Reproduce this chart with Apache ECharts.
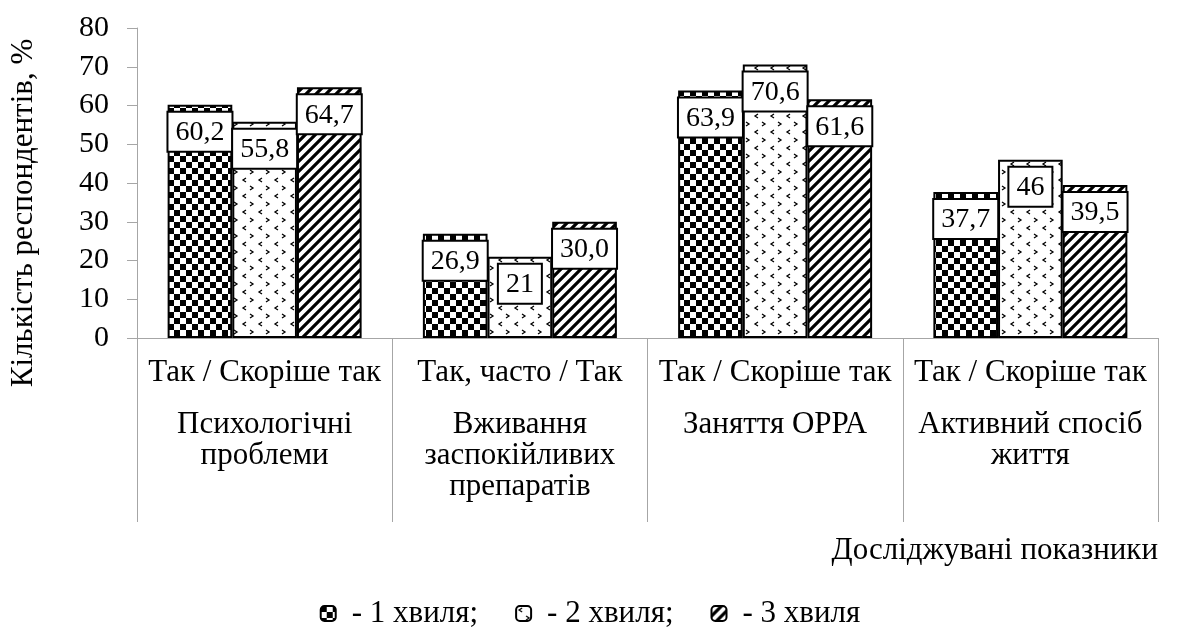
<!DOCTYPE html>
<html>
<head>
<meta charset="utf-8">
<title>Кількість респондентів</title>
<script src="https://cdn.jsdelivr.net/npm/echarts@6/dist/echarts.min.js"></script>
<style>
	html, body { margin: 0; padding: 0; background: #fff; }
	#chart { width: 1180px; height: 632px; }
</style>
</head>
<body>
<div id="chart"></div>
<script>
	// дані
	var groups = ['Психологічні\nпроблеми', 'Вживання\nзаспокійливих\nпрепаратів', 'Заняття ОРРА', 'Активний спосіб\nжиття'];
	var answers = ['Так / Скоріше так', 'Так, часто / Так', 'Так / Скоріше так', 'Так / Скоріше так'];
	var waves = ['1 хвиля', '2 хвиля', '3 хвиля'];
	var wave1 = [60.2, 26.9, 63.9, 37.7];
	var wave2 = [55.8, 21, 70.6, 46];
	var wave3 = [64.7, 30.0, 61.6, 39.5];
	var labels1 = ['60,2', '26,9', '63,9', '37,7'];
	var labels2 = ['55,8', '21', '70,6', '46'];
	var labels3 = ['64,7', '30,0', '61,6', '39,5'];

	var FONT = 'Liberation Serif';
	var AXIS_GRAY = '#a6a6a6';

	/*---------- штрихування ----------*/
	function makeTile(w, h, draw) {
		var c = document.createElement('canvas');
		c.width = w;
		c.height = h;
		var ctx = c.getContext('2d');
		ctx.fillStyle = '#fff';
		ctx.fillRect(0, 0, w, h);
		ctx.fillStyle = '#000';
		ctx.strokeStyle = '#000';
		draw(ctx);
		return c;
	}
	var checker = makeTile(12, 12, function(ctx) {
		ctx.fillRect(0, 0, 6, 6);
		ctx.fillRect(6, 6, 6, 6);
	});
	var dots = makeTile(16, 16, function(ctx) {
		ctx.lineWidth = 1.3;
		ctx.beginPath();
		ctx.moveTo(6, 2); ctx.lineTo(3, 4); ctx.lineTo(6, 6);
		ctx.moveTo(10, 10); ctx.lineTo(13, 12); ctx.lineTo(10, 14);
		ctx.stroke();
	});
	var stripes = makeTile(10, 10, function(ctx) {
		ctx.lineWidth = 3.2;
		ctx.beginPath();
		ctx.moveTo(0, 10); ctx.lineTo(10, 0);
		ctx.moveTo(-5, 5); ctx.lineTo(5, -5);
		ctx.moveTo(5, 15); ctx.lineTo(15, 5);
		ctx.stroke();
	});
	/*----------------------------------*/

	function barSeries(name, values, labels, tile) {
		return {
			name: name,
			type: 'bar',
			barGap: '0%',
			barCategoryGap: '24%',
			data: values,
			itemStyle: {
				color: { image: tile, repeat: 'repeat' },
				borderColor: '#000',
				borderWidth: 2
			},
			emphasis: { disabled: true },
			label: {
				show: true,
				position: 'insideTop',
				distance: 8,
				formatter: function(p) { return labels[p.dataIndex]; },
				fontFamily: FONT,
				fontSize: 28,
				color: '#000',
				backgroundColor: '#fff',
				borderColor: '#000',
				borderWidth: 2,
				padding: [6, 7, 4, 7]
			}
		};
	}

	var myChart = echarts.init(document.getElementById('chart'));
	myChart.setOption({
		animation: false,
		title: {
			text: 'Досліджувані показники',
			right: 17,
			top: 530,
			textStyle: { fontFamily: FONT, fontSize: 31, fontWeight: 'normal', color: '#000' }
		},
		legend: {
			top: 593,
			left: 'center',
			itemWidth: 15,
			itemHeight: 15,
			itemGap: 37,
			data: waves,
			formatter: function(name) {
				return '- ' + name + (name === waves[waves.length - 1] ? '' : ';');
			},
			textStyle: { fontFamily: FONT, fontSize: 31, color: '#000', padding: [0, 0, 0, 11] }
		},
		grid: { left: 135, right: 22, top: 28, bottom: 294, containLabel: false },
		xAxis: [
			{
				type: 'category',
				data: groups,
				axisLine: { lineStyle: { color: AXIS_GRAY, width: 1 } },
				axisTick: { show: true, interval: 0, length: 184, lineStyle: { color: AXIS_GRAY } },
				axisLabel: {
					interval: 0,
					margin: 19,
					fontFamily: FONT,
					fontSize: 31,
					color: '#000',
					formatter: function(v, i) { return answers[i]; }
				}
			},
			{
				type: 'category',
				position: 'bottom',
				data: groups,
				axisLine: { show: false },
				axisTick: { show: false },
				axisLabel: {
					interval: 0,
					margin: 71,
					fontFamily: FONT,
					fontSize: 31,
					lineHeight: 31,
					color: '#000'
				}
			}
		],
		yAxis: {
			type: 'value',
			min: 0,
			max: 80,
			interval: 10,
			name: 'Кількість респондентів, %',
			nameLocation: 'middle',
			nameGap: 98,
			nameTextStyle: { fontFamily: FONT, fontSize: 31, color: '#000', padding: [0, 60, 0, 0] },
			axisLine: { show: true, lineStyle: { color: AXIS_GRAY } },
			axisTick: { show: true, length: 10, lineStyle: { color: AXIS_GRAY } },
			axisLabel: { margin: 28, fontFamily: FONT, fontSize: 30, color: '#000' },
			splitLine: { show: false }
		},
		series: [
			barSeries(waves[0], wave1, labels1, checker),
			barSeries(waves[1], wave2, labels2, dots),
			barSeries(waves[2], wave3, labels3, stripes)
		]
	});
</script>
</body>
</html>
